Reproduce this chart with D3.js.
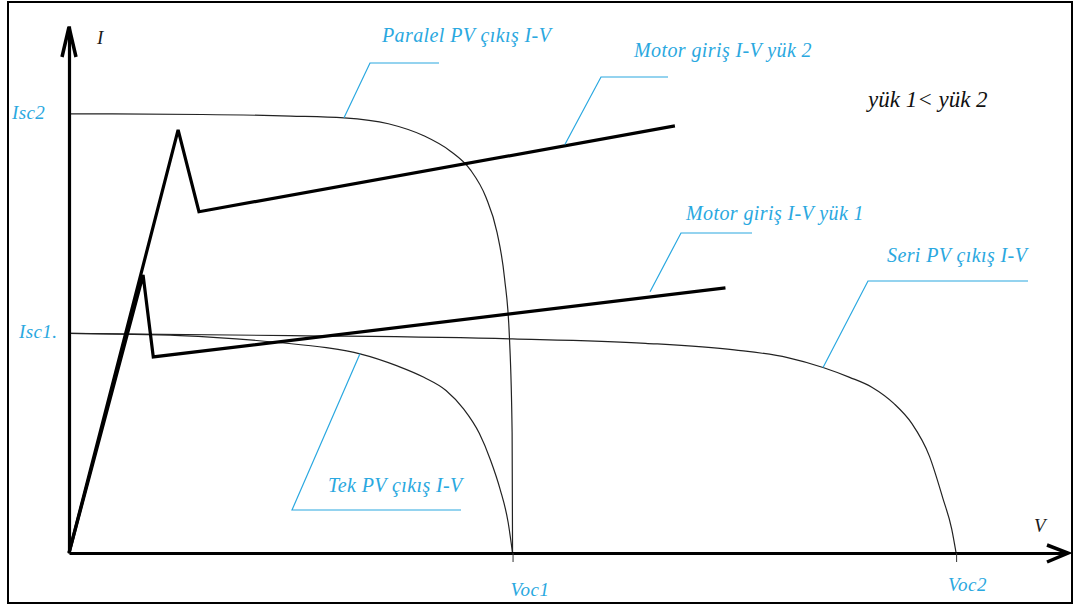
<!DOCTYPE html>
<html>
<head>
<meta charset="utf-8">
<script src="https://cdn.jsdelivr.net/npm/d3@7/dist/d3.min.js"></script>
<style>
  html, body { margin: 0; padding: 0; background: #fff; }
  svg { display: block; }
  .lbl { font-family: "Liberation Serif", "Times New Roman", serif; font-style: italic; }
</style>
</head>
<body>
<svg id="chart" width="1075" height="606"></svg>
<script>
// Voltage in units of Voc1, current in units of Isc1
const tekPV = [
  [0, 1.0], [0.25, 0.99], [0.476, 0.958], [0.58, 0.935], [0.656, 0.907],
  [0.74, 0.852], [0.8, 0.8], [0.85, 0.74], [0.89, 0.655], [0.925, 0.545],
  [0.95, 0.425], [0.972, 0.29], [0.99, 0.14], [1.0, 0]
];
const paralelPV = [
  [0, 2.0], [0.3, 1.997], [0.5, 1.99], [0.62, 1.982], [0.72, 1.955],
  [0.8, 1.9], [0.86, 1.83], [0.905, 1.745], [0.94, 1.62], [0.965, 1.46],
  [0.982, 1.25], [0.993, 0.98], [0.999, 0.55], [1.0, 0]
];
const seriPV = [
  [0, 1.0], [0.5, 0.99], [1.0, 0.975], [1.3, 0.955], [1.5, 0.925],
  [1.62, 0.89], [1.7, 0.845], [1.76, 0.8], [1.81, 0.755], [1.86, 0.68],
  [1.9, 0.59], [1.94, 0.44], [1.97, 0.25], [1.99, 0.11], [2.0, 0]
];
const motorYuk1 = [[0, 0], [0.167, 1.266], [0.19, 0.893], [1.48, 1.207]];
const motorYuk2 = [[0, 0], [0.246, 1.927], [0.293, 1.554], [1.366, 1.945]];

const vTicks = [1, 2];
const vTickLabels = ["Voc1", "Voc2"];
const iTicks = [1, 2];
const iTickLabels = ["Isc1.", "Isc2"];

const svg = d3.select("#chart");
const x = d3.scaleLinear().domain([0, 2.25]).range([69, 1067]);
const y = d3.scaleLinear().domain([0, 2.4]).range([553, 26]);

const blue = "#2aa8e0";

// outer frame
svg.append("rect")
  .attr("x", 8).attr("y", 2).attr("width", 1064).attr("height", 601)
  .attr("fill", "#fff").attr("stroke", "#000").attr("stroke-width", 2);

const line = d3.line().x(d => x(d[0])).y(d => y(d[1]));
const smooth = d3.line().x(d => x(d[0])).y(d => y(d[1])).curve(d3.curveMonotoneX);

// PV output curves
[tekPV, paralelPV, seriPV].forEach(s => {
  svg.append("path").attr("d", smooth(s))
    .attr("fill", "none").attr("stroke", "#222").attr("stroke-width", 1.2);
});

// motor input curves
[motorYuk1, motorYuk2].forEach(s => {
  svg.append("path").attr("d", line(s))
    .attr("fill", "none").attr("stroke", "#000").attr("stroke-width", 3.2)
    .attr("stroke-linejoin", "miter");
});

// axes
const xAxis = svg.append("g").attr("transform", `translate(0,${y(0)})`)
  .call(d3.axisBottom(x).tickValues(vTicks).tickSize(9).tickSizeOuter(0).tickFormat(""));
xAxis.select(".domain").attr("stroke", "#000").attr("stroke-width", 3.2);
xAxis.selectAll(".tick line").attr("stroke", "#333").attr("stroke-width", 1);

const yAxis = svg.append("g").attr("transform", `translate(${x(0)},0)`)
  .call(d3.axisLeft(y).tickValues(iTicks).tickSize(0).tickSizeOuter(0).tickFormat(""));
yAxis.select(".domain").attr("stroke", "#000").attr("stroke-width", 3.2);

// arrow heads
const ax = x(2.25) + 1, ay = y(0);
svg.append("path")
  .attr("d", `M${ax - 21},${ay - 8} L${ax},${ay} L${ax - 21},${ay + 9}`)
  .attr("fill", "none").attr("stroke", "#000").attr("stroke-width", 3.5)
  .attr("stroke-linejoin", "miter");
const tx = x(0), ty = y(2.4) + 1;
svg.append("path")
  .attr("d", `M${tx - 7},${ty + 30} L${tx},${ty} L${tx + 7},${ty + 30}`)
  .attr("fill", "none").attr("stroke", "#000").attr("stroke-width", 3.5)
  .attr("stroke-linejoin", "miter");

// axis names
svg.append("text").attr("class", "lbl").attr("x", 97).attr("y", 44)
  .attr("font-size", 19).attr("fill", "#1a1a1a").text("I");
svg.append("text").attr("class", "lbl").attr("x", 1034).attr("y", 532)
  .attr("font-size", 19).attr("fill", "#1a1a1a").text("V");

// tick labels
vTicks.forEach((v, i) => {
  svg.append("text").attr("class", "lbl")
    .attr("x", x(v) - 2 + (i === 1 ? -6 : 0)).attr("y", i === 0 ? 596 : 591)
    .attr("font-size", 19).attr("letter-spacing", 0.5).attr("fill", blue)
    .text(vTickLabels[i]);
});
iTicks.forEach((v, i) => {
  svg.append("text").attr("class", "lbl")
    .attr("x", i === 0 ? 19 : 12).attr("y", y(v) + 5)
    .attr("font-size", 19).attr("letter-spacing", 0.4).attr("fill", blue)
    .text(iTickLabels[i]);
});

// callouts: anchor on a curve, elbow, horizontal leader end, text position
const callouts = [
  { text: "Paralel PV çıkış I-V", at: [0.62, 1.982], elbow: [370, 63], end: 439, tx: 382, ty: 42 },
  { text: "Motor giriş I-V yük 2", at: [1.118, 1.86], elbow: [601, 77], end: 668, tx: 634, ty: 57 },
  { text: "Motor giriş I-V yük 1", at: [1.31, 1.19], elbow: [681, 233], end: 752, tx: 686, ty: 220 },
  { text: "Seri PV çıkış I-V", at: [1.7, 0.845], elbow: [868, 281], end: 1028, tx: 887, ty: 262 },
  { text: "Tek PV çıkış I-V", at: [0.656, 0.907], elbow: [292, 510], end: 461, tx: 328, ty: 492 }
];
callouts.forEach(c => {
  svg.append("path")
    .attr("d", `M${x(c.at[0])},${y(c.at[1])} L${c.elbow[0]},${c.elbow[1]} L${c.end},${c.elbow[1]}`)
    .attr("fill", "none").attr("stroke", blue).attr("stroke-width", 1.2);
  svg.append("text").attr("class", "lbl").attr("x", c.tx).attr("y", c.ty)
    .attr("font-size", 20).attr("letter-spacing", 0.4).attr("fill", blue).text(c.text);
});

svg.append("text").attr("class", "lbl").attr("x", 868).attr("y", 107)
  .attr("font-size", 23).attr("fill", "#111").text("yük 1< yük 2");
</script>
</body>
</html>
